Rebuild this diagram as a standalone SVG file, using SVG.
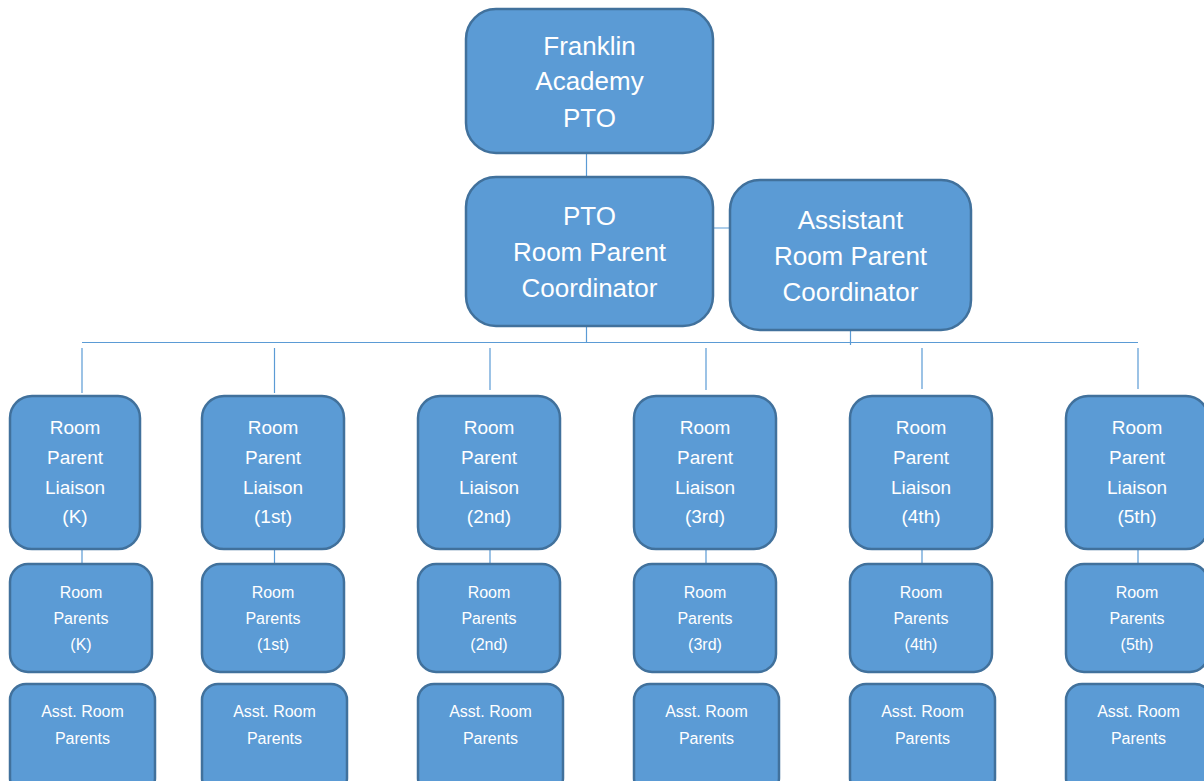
<svg xmlns="http://www.w3.org/2000/svg" width="1204" height="781" viewBox="0 0 1204 781">
<style>
.box{fill:#5B9BD5;stroke:#41719C;stroke-width:2.5}
.ln{stroke:#5B9BD5;stroke-width:1.2;fill:none}
text{font-family:"Liberation Sans",Arial,sans-serif;fill:#fff;text-anchor:middle}
.t1{font-size:26px}
.t2{font-size:19px}
.t3{font-size:16px}
</style>
<rect width="1204" height="781" fill="#fff"/>
<g id="connectors" class="ln">
<path d="M586.5 153V177M713 228H730M586.5 326V342.5M850.5 330V345M82 342.5H1138"/>
<path d="M82 348V393M274.5 348V393M490 348V390M706 348V390M922 348V389M1138 348V389"/>
<path d="M82 549V564M274.5 549V564M490 549V564M706 549V564M922 549V564M1138 549V564"/>
</g>
<g id="n-pto"><rect class="box" x="466" y="9" width="247" height="144" rx="30"/>
<text class="t1" x="589.5"><tspan x="589.5" y="55">Franklin</tspan><tspan x="589.5" y="90">Academy</tspan><tspan x="589.5" y="127">PTO</tspan></text></g>
<g id="n-coord"><rect class="box" x="466" y="177" width="247" height="149" rx="30"/>
<text class="t1"><tspan x="589.5" y="225">PTO</tspan><tspan x="589.5" y="261">Room Parent</tspan><tspan x="589.5" y="297">Coordinator</tspan></text></g>
<g id="n-asst-coord"><rect class="box" x="730" y="180" width="241" height="150" rx="30"/>
<text class="t1"><tspan x="850.5" y="229">Assistant</tspan><tspan x="850.5" y="265">Room Parent</tspan><tspan x="850.5" y="301">Coordinator</tspan></text></g>

<g id="n-liaison-k"><rect class="box" x="10" y="396" width="130" height="153" rx="22"/>
<text class="t2"><tspan x="75" y="434">Room</tspan><tspan x="75" y="464">Parent</tspan><tspan x="75" y="494">Liaison</tspan><tspan x="75" y="523">(K)</tspan></text></g>
<g id="n-liaison-1"><rect class="box" x="202" y="396" width="142" height="153" rx="22"/>
<text class="t2"><tspan x="273" y="434">Room</tspan><tspan x="273" y="464">Parent</tspan><tspan x="273" y="494">Liaison</tspan><tspan x="273" y="523">(1st)</tspan></text></g>
<g id="n-liaison-2"><rect class="box" x="418" y="396" width="142" height="153" rx="22"/>
<text class="t2"><tspan x="489" y="434">Room</tspan><tspan x="489" y="464">Parent</tspan><tspan x="489" y="494">Liaison</tspan><tspan x="489" y="523">(2nd)</tspan></text></g>
<g id="n-liaison-3"><rect class="box" x="634" y="396" width="142" height="153" rx="22"/>
<text class="t2"><tspan x="705" y="434">Room</tspan><tspan x="705" y="464">Parent</tspan><tspan x="705" y="494">Liaison</tspan><tspan x="705" y="523">(3rd)</tspan></text></g>
<g id="n-liaison-4"><rect class="box" x="850" y="396" width="142" height="153" rx="22"/>
<text class="t2"><tspan x="921" y="434">Room</tspan><tspan x="921" y="464">Parent</tspan><tspan x="921" y="494">Liaison</tspan><tspan x="921" y="523">(4th)</tspan></text></g>
<g id="n-liaison-5"><rect class="box" x="1066" y="396" width="142" height="153" rx="22"/>
<text class="t2"><tspan x="1137" y="434">Room</tspan><tspan x="1137" y="464">Parent</tspan><tspan x="1137" y="494">Liaison</tspan><tspan x="1137" y="523">(5th)</tspan></text></g>

<g id="n-rp-k"><rect class="box" x="10" y="564" width="142" height="108" rx="18"/>
<text class="t3"><tspan x="81" y="598">Room</tspan><tspan x="81" y="624">Parents</tspan><tspan x="81" y="650">(K)</tspan></text></g>
<g id="n-rp-1"><rect class="box" x="202" y="564" width="142" height="108" rx="18"/>
<text class="t3"><tspan x="273" y="598">Room</tspan><tspan x="273" y="624">Parents</tspan><tspan x="273" y="650">(1st)</tspan></text></g>
<g id="n-rp-2"><rect class="box" x="418" y="564" width="142" height="108" rx="18"/>
<text class="t3"><tspan x="489" y="598">Room</tspan><tspan x="489" y="624">Parents</tspan><tspan x="489" y="650">(2nd)</tspan></text></g>
<g id="n-rp-3"><rect class="box" x="634" y="564" width="142" height="108" rx="18"/>
<text class="t3"><tspan x="705" y="598">Room</tspan><tspan x="705" y="624">Parents</tspan><tspan x="705" y="650">(3rd)</tspan></text></g>
<g id="n-rp-4"><rect class="box" x="850" y="564" width="142" height="108" rx="18"/>
<text class="t3"><tspan x="921" y="598">Room</tspan><tspan x="921" y="624">Parents</tspan><tspan x="921" y="650">(4th)</tspan></text></g>
<g id="n-rp-5"><rect class="box" x="1066" y="564" width="142" height="108" rx="18"/>
<text class="t3"><tspan x="1137" y="598">Room</tspan><tspan x="1137" y="624">Parents</tspan><tspan x="1137" y="650">(5th)</tspan></text></g>

<g id="n-arp-k"><rect class="box" x="10" y="684" width="145" height="110" rx="16"/>
<text class="t3"><tspan x="82.5" y="717">Asst. Room</tspan><tspan x="82.5" y="744">Parents</tspan></text></g>
<g id="n-arp-1"><rect class="box" x="202" y="684" width="145" height="110" rx="16"/>
<text class="t3"><tspan x="274.5" y="717">Asst. Room</tspan><tspan x="274.5" y="744">Parents</tspan></text></g>
<g id="n-arp-2"><rect class="box" x="418" y="684" width="145" height="110" rx="16"/>
<text class="t3"><tspan x="490.5" y="717">Asst. Room</tspan><tspan x="490.5" y="744">Parents</tspan></text></g>
<g id="n-arp-3"><rect class="box" x="634" y="684" width="145" height="110" rx="16"/>
<text class="t3"><tspan x="706.5" y="717">Asst. Room</tspan><tspan x="706.5" y="744">Parents</tspan></text></g>
<g id="n-arp-4"><rect class="box" x="850" y="684" width="145" height="110" rx="16"/>
<text class="t3"><tspan x="922.5" y="717">Asst. Room</tspan><tspan x="922.5" y="744">Parents</tspan></text></g>
<g id="n-arp-5"><rect class="box" x="1066" y="684" width="145" height="110" rx="16"/>
<text class="t3"><tspan x="1138.5" y="717">Asst. Room</tspan><tspan x="1138.5" y="744">Parents</tspan></text></g>
</svg>
